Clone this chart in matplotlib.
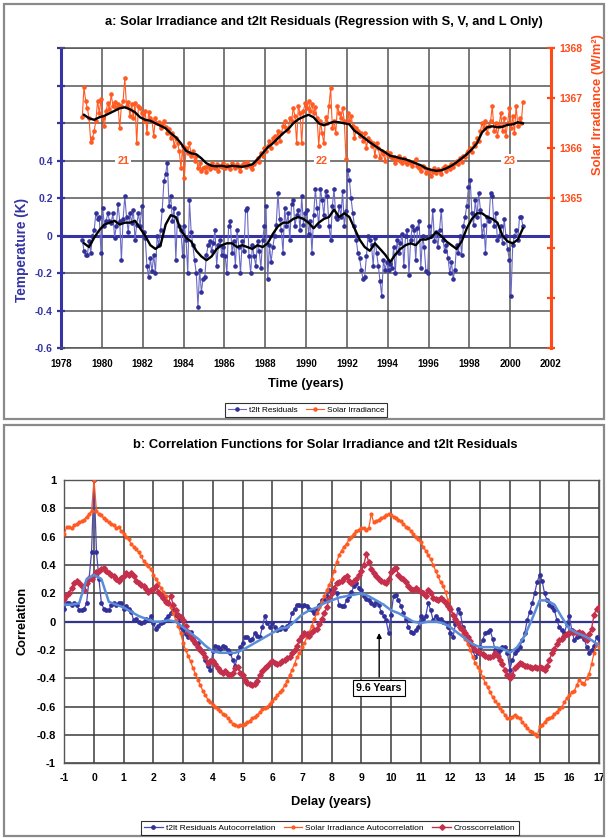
import numpy as np
import matplotlib
matplotlib.use("Agg")
import matplotlib.pyplot as plt
from matplotlib.patches import Rectangle
from matplotlib.lines import Line2D

plt.rcParams['font.family'] = ['Liberation Sans', 'DejaVu Sans']
plt.rcParams['font.weight'] = 'bold'
plt.rcParams['axes.unicode_minus'] = False

# ---------------- Panel a: monthly series, Jan 1979 - Aug 2000 ----------------
t2lt_residuals = [
    -0.02, -0.08, -0.10, -0.10, -0.03, -0.09, 0.00, 0.03, 0.12, 0.09, 0.10, -0.09,   # 1979
    0.15, 0.05, 0.08, 0.12, 0.08, 0.07, 0.12, -0.01, 0.05, 0.17, 0.08, -0.13,        # 1980
    0.09, 0.21, 0.10, 0.02, 0.12, 0.07, 0.14, -0.02, 0.06, 0.12, 0.05, 0.16,         # 1981
    0.02, -0.01, -0.16, -0.22, -0.12, -0.19, -0.10, -0.20, 0.00, -0.05, 0.03, 0.14,  # 1982
    0.29, 0.33, 0.39, 0.16, 0.21, 0.08, 0.15, -0.13, 0.12, 0.05, 0.03, -0.11,        # 1983
    0.05, -0.02, -0.20, 0.19, 0.02, -0.05, -0.13, -0.20, -0.38, -0.18, -0.30, -0.23, # 1984
    -0.22, -0.10, -0.05, -0.03, -0.08, -0.04, 0.03, -0.16, -0.05, -0.02, -0.10, -0.06,  # 1985
    -0.11, -0.20, 0.05, 0.08, -0.09, -0.03, -0.16, 0.03, -0.06, -0.20, -0.03, -0.08,    # 1986
    0.14, 0.15, -0.11, -0.20, -0.05, -0.11, -0.16, -0.03, -0.08, -0.17, -0.02, 0.05,    # 1987
    0.16, -0.23, -0.05, -0.14, -0.06, 0.00, 0.06, 0.23, 0.09, 0.03, -0.09, 0.15,        # 1988
    0.05, 0.12, -0.02, 0.17, 0.19, 0.05, 0.11, 0.14, 0.03, 0.21, 0.06, 0.12,            # 1989
    0.14, 0.01, 0.08, -0.09, 0.11, 0.25, 0.15, 0.05, 0.25, 0.19, 0.11, 0.24,            # 1990
    0.21, 0.05, -0.02, 0.16, 0.25, 0.10, 0.09, 0.16, 0.10, 0.24, 0.05, 0.13,            # 1991
    0.35, 0.30, 0.20, 0.12, 0.05, -0.02, -0.09, -0.12, -0.18, -0.23, -0.22, -0.11,      # 1992
    0.00, -0.02, -0.05, -0.16, -0.01, -0.09, -0.16, -0.24, -0.32, -0.13, -0.18, -0.14,  # 1993
    -0.18, -0.15, -0.17, -0.06, -0.20, -0.02, -0.09, -0.04, 0.01, -0.16, 0.00, 0.03,    # 1994
    -0.21, -0.02, 0.05, 0.03, -0.13, 0.04, 0.08, -0.17, 0.00, -0.06, -0.19, -0.20,      # 1995
    0.05, 0.00, 0.14, -0.03, 0.02, -0.06, 0.03, 0.14, -0.02, -0.08, -0.05, -0.12,       # 1996
    -0.20, -0.14, -0.23, -0.18, -0.05, -0.09, 0.00, -0.10, 0.05, 0.10, 0.16, 0.26,      # 1997
    0.30, 0.12, 0.06, 0.19, 0.10, 0.23, 0.14, 0.00, 0.06, -0.09, 0.10, 0.08,            # 1998
    0.23, 0.21, 0.05, 0.12, -0.02, 0.00, 0.05, -0.04, 0.09, 0.00, -0.07, -0.13,         # 1999
    -0.32, -0.05, 0.00, 0.03, -0.02, 0.10, 0.10, 0.05,                                  # 2000
]

solar_irradiance = [
    1366.62, 1367.22, 1366.95, 1366.80, 1366.60, 1366.12, 1366.20, 1366.35, 1366.55, 1366.95, 1366.70, 1366.98,  # 1979
    1366.60, 1366.45, 1366.75, 1366.90, 1366.78, 1367.08, 1366.85, 1366.92, 1366.80, 1366.88, 1366.40, 1366.85,  # 1980
    1366.95, 1367.40, 1366.85, 1366.92, 1366.65, 1366.88, 1366.60, 1366.90, 1366.10, 1366.85, 1366.80, 1366.70,  # 1981
    1366.55, 1366.75, 1366.30, 1366.72, 1366.60, 1366.55, 1366.25, 1366.60, 1366.50, 1366.52, 1366.40, 1366.48,  # 1982
    1366.55, 1366.42, 1366.30, 1366.38, 1366.20, 1366.30, 1366.05, 1366.20, 1366.10, 1365.95, 1365.60, 1366.05,  # 1983
    1365.40, 1366.00, 1365.90, 1366.10, 1365.85, 1365.95, 1365.75, 1365.85, 1365.60, 1365.70, 1365.55, 1365.60,  # 1984
    1365.62, 1365.52, 1365.65, 1365.58, 1365.70, 1365.62, 1365.60, 1365.68, 1365.55, 1365.65, 1365.62, 1365.70,  # 1985
    1365.60, 1365.66, 1365.62, 1365.58, 1365.70, 1365.64, 1365.60, 1365.68, 1365.62, 1365.55, 1365.66, 1365.70,  # 1986
    1365.62, 1365.72, 1365.66, 1365.62, 1365.58, 1365.68, 1365.75, 1365.80, 1365.72, 1365.90, 1365.85, 1366.00,  # 1987
    1365.95, 1366.05, 1366.15, 1366.00, 1366.20, 1366.25, 1366.10, 1366.35, 1366.15, 1366.30, 1366.45, 1366.55,  # 1988
    1366.40, 1366.35, 1366.60, 1366.55, 1366.80, 1366.65, 1366.10, 1366.85, 1366.70, 1366.10, 1366.75, 1366.90,  # 1989
    1366.80, 1366.95, 1366.75, 1366.88, 1366.70, 1366.82, 1366.60, 1366.05, 1366.55, 1366.30, 1366.10, 1366.62,  # 1990
    1366.50, 1366.85, 1367.20, 1366.40, 1366.55, 1366.30, 1366.85, 1366.70, 1366.60, 1366.80, 1366.55, 1365.78,  # 1991
    1366.70, 1366.55, 1366.65, 1366.45, 1366.20, 1366.40, 1366.35, 1366.25, 1366.30, 1366.15, 1366.30, 1366.00,  # 1992
    1366.20, 1366.15, 1366.05, 1366.10, 1365.85, 1366.10, 1366.00, 1365.80, 1365.95, 1365.88, 1365.75, 1365.92,  # 1993
    1365.85, 1365.90, 1365.80, 1365.82, 1365.70, 1365.78, 1365.85, 1365.75, 1365.70, 1365.80, 1365.72, 1365.68,  # 1994
    1365.75, 1365.70, 1365.65, 1365.72, 1365.78, 1365.65, 1365.60, 1365.55, 1365.65, 1365.62, 1365.50, 1365.58,  # 1995
    1365.55, 1365.45, 1365.52, 1365.60, 1365.50, 1365.58, 1365.55, 1365.48, 1365.60, 1365.65, 1365.55, 1365.62,  # 1996
    1365.58, 1365.68, 1365.62, 1365.70, 1365.75, 1365.68, 1365.80, 1365.72, 1365.85, 1365.82, 1365.90, 1365.95,  # 1997
    1366.00, 1365.92, 1366.10, 1366.05, 1366.20, 1366.15, 1366.35, 1366.50, 1366.40, 1366.55, 1366.30, 1366.45,  # 1998
    1366.55, 1366.85, 1366.35, 1366.50, 1366.25, 1366.45, 1366.70, 1366.35, 1366.60, 1366.25, 1366.50, 1366.80,  # 1999
    1366.40, 1366.65, 1366.30, 1366.85, 1366.45, 1366.60, 1366.50, 1366.92,                                      # 2000
]

# Running-mean trend lines, sampled quarterly from 1979.125
t2lt_trend = [
    -0.04, -0.06, -0.01, 0.03, 0.06, 0.07, 0.08, 0.06, 0.07, 0.07, 0.08, 0.04,
    0.00, -0.05, -0.07, -0.05, 0.06, 0.11, 0.10, 0.03, -0.01, -0.03, -0.08, -0.11,
    -0.13, -0.11, -0.07, -0.05, -0.04, -0.04, -0.06, -0.05, -0.06, -0.07, -0.05, -0.06,
    -0.04, 0.01, 0.05, 0.07, 0.07, 0.09, 0.10, 0.09, 0.07, 0.04, 0.07, 0.09,
    0.10, 0.14, 0.10, 0.12, 0.10, 0.04, -0.02, -0.06, -0.08, -0.04, -0.07, -0.10,
    -0.14, -0.10, -0.07, -0.05, -0.04, -0.05, -0.02, -0.02, -0.01, 0.02, 0.00, -0.03,
    -0.05, -0.07, -0.03, 0.04, 0.09, 0.12, 0.12, 0.10, 0.09, 0.07, 0.00, -0.03,
    -0.04, -0.02, 0.04,
]
solar_trend = [
    1366.67, 1366.60, 1366.57, 1366.62, 1366.65, 1366.70, 1366.75, 1366.80, 1366.82, 1366.78, 1366.72, 1366.62,
    1366.57, 1366.55, 1366.50, 1366.45, 1366.40, 1366.30, 1366.22, 1366.10, 1365.95, 1365.90, 1365.88, 1365.80,
    1365.70, 1365.65, 1365.64, 1365.65, 1365.63, 1365.65, 1365.64, 1365.63, 1365.65, 1365.68, 1365.78, 1365.90,
    1366.02, 1366.10, 1366.20, 1366.30, 1366.38, 1366.50, 1366.58, 1366.63, 1366.67, 1366.62, 1366.50, 1366.46,
    1366.50, 1366.53, 1366.52, 1366.50, 1366.48, 1366.35, 1366.28, 1366.20, 1366.12, 1366.05, 1365.98, 1365.92,
    1365.85, 1365.83, 1365.80, 1365.78, 1365.74, 1365.70, 1365.66, 1365.60, 1365.57, 1365.55, 1365.56, 1365.60,
    1365.65, 1365.72, 1365.80, 1365.88, 1365.98, 1366.10, 1366.32, 1366.42, 1366.44, 1366.42, 1366.43, 1366.47,
    1366.48, 1366.52, 1366.50,
]
cycle_labels = ["21", "22", "23"]
cycle_years = [1981.05, 1990.77, 1999.95]

# ---------------- Panel b: correlation vs delay, monthly lags -1 .. 17 years ----------------
t2lt_autocorr = [
    0.09, 0.13, 0.13, 0.12, 0.13, 0.12, 0.08, 0.08, 0.09, 0.13, 0.30, 0.49,          # -1
    1.00, 0.49, 0.30, 0.13, 0.09, 0.08, 0.08, 0.12, 0.13, 0.12, 0.13, 0.13,          # 0
    0.09, 0.11, 0.09, 0.07, 0.01, 0.02, 0.00, -0.01, 0.00, 0.02, 0.01, 0.04,         # 1
    -0.01, -0.05, -0.03, -0.01, 0.00, 0.02, 0.04, 0.06, 0.08, 0.05, 0.01, -0.04,     # 2
    -0.06, -0.09, -0.11, -0.07, -0.12, -0.15, -0.15, -0.19, -0.22, -0.27, -0.31, -0.34,  # 3
    -0.21, -0.17, -0.18, -0.19, -0.17, -0.18, -0.20, -0.22, -0.27, -0.31, -0.25, -0.18,  # 4
    -0.15, -0.11, -0.11, -0.13, -0.12, -0.08, -0.10, -0.11, -0.04, 0.04, -0.01, -0.04,   # 5
    -0.01, -0.04, -0.06, -0.05, -0.04, -0.05, -0.03, -0.01, 0.06, 0.09, 0.12, 0.12,      # 6
    0.11, 0.12, 0.11, 0.09, 0.08, 0.06, 0.09, 0.12, 0.15, 0.15, 0.18, 0.22,          # 7
    0.22, 0.24, 0.20, 0.12, 0.11, 0.11, 0.15, 0.18, 0.21, 0.25, 0.27, 0.24,          # 8
    0.22, 0.18, 0.16, 0.15, 0.13, 0.12, 0.14, 0.12, 0.07, 0.04, 0.01, -0.08,         # 9
    0.05, 0.18, 0.19, 0.15, 0.11, 0.06, 0.02, -0.04, -0.07, -0.08, -0.06, -0.04,     # 10
    0.04, 0.02, 0.04, 0.13, 0.08, 0.01, 0.04, 0.02, 0.02, 0.00, -0.01, -0.04,        # 11
    -0.08, -0.11, -0.02, 0.09, 0.06, -0.04, -0.08, -0.11, -0.16, -0.20, -0.25, -0.22,    # 12
    -0.18, -0.13, -0.08, -0.07, -0.06, -0.12, -0.20, -0.22, -0.20, -0.18, -0.18, -0.22,  # 13
    -0.34, -0.27, -0.22, -0.20, -0.18, -0.13, -0.08, 0.01, 0.07, 0.13, 0.20, 0.28,       # 14
    0.33, 0.29, 0.20, 0.15, 0.12, 0.10, 0.08, 0.01, -0.04, -0.06, -0.08, -0.02,          # 15
    0.04, -0.06, -0.13, -0.11, -0.10, -0.10, -0.12, -0.18, -0.22, -0.20, -0.17, -0.11,   # 16
    -0.12,                                                                               # 17
]
solar_autocorr = [
    0.62, 0.67, 0.67, 0.66, 0.68, 0.69, 0.70, 0.71, 0.72, 0.74, 0.76, 0.78,          # -1
    1.00, 0.78, 0.76, 0.75, 0.73, 0.72, 0.70, 0.69, 0.68, 0.66, 0.67, 0.64,          # 0
    0.62, 0.60, 0.58, 0.55, 0.53, 0.51, 0.49, 0.46, 0.43, 0.41, 0.39, 0.37,          # 1
    0.33, 0.30, 0.27, 0.24, 0.21, 0.18, 0.14, 0.10, 0.06, 0.01, -0.03, -0.08,        # 2
    -0.15, -0.20, -0.24, -0.28, -0.33, -0.37, -0.41, -0.45, -0.49, -0.52, -0.55, -0.57,  # 3
    -0.59, -0.60, -0.62, -0.63, -0.65, -0.66, -0.68, -0.70, -0.72, -0.73, -0.74, -0.73,  # 4
    -0.73, -0.72, -0.71, -0.70, -0.68, -0.67, -0.66, -0.64, -0.62, -0.61, -0.60, -0.58,  # 5
    -0.56, -0.54, -0.52, -0.50, -0.48, -0.45, -0.42, -0.38, -0.34, -0.30, -0.25, -0.22,  # 6
    -0.18, -0.15, -0.11, -0.07, -0.03, 0.02, 0.06, 0.10, 0.14, 0.18, 0.22, 0.26,     # 7
    0.30, 0.36, 0.42, 0.47, 0.50, 0.53, 0.55, 0.58, 0.60, 0.62, 0.64, 0.65,          # 8
    0.66, 0.66, 0.65, 0.66, 0.76, 0.70, 0.71, 0.72, 0.73, 0.74, 0.75, 0.76,          # 9
    0.75, 0.74, 0.73, 0.72, 0.71, 0.69, 0.67, 0.66, 0.64, 0.62, 0.60, 0.58,          # 10
    0.56, 0.53, 0.50, 0.47, 0.44, 0.40, 0.36, 0.32, 0.28, 0.25, 0.21, 0.15,          # 11
    0.10, 0.05, 0.02, -0.02, -0.05, -0.08, -0.12, -0.16, -0.20, -0.25, -0.29, -0.32,     # 12
    -0.35, -0.39, -0.43, -0.46, -0.50, -0.53, -0.56, -0.58, -0.61, -0.63, -0.66, -0.68,  # 13
    -0.68, -0.67, -0.66, -0.67, -0.68, -0.71, -0.73, -0.75, -0.77, -0.78, -0.79, -0.81,  # 14
    -0.74, -0.73, -0.71, -0.69, -0.68, -0.67, -0.65, -0.64, -0.62, -0.60, -0.57, -0.54,  # 15
    -0.52, -0.50, -0.49, -0.45, -0.41, -0.43, -0.44, -0.40, -0.37, -0.30, -0.22, -0.16,  # 16
    -0.18,                                                                               # 17
]
crosscorr = [
    0.16, 0.19, 0.20, 0.24, 0.27, 0.29, 0.27, 0.25, 0.22, 0.27, 0.31, 0.30,          # -1
    0.33, 0.35, 0.36, 0.37, 0.38, 0.36, 0.34, 0.33, 0.32, 0.30, 0.29, 0.31,          # 0
    0.32, 0.34, 0.33, 0.34, 0.32, 0.29, 0.27, 0.26, 0.25, 0.23, 0.21, 0.22,          # 1
    0.23, 0.25, 0.21, 0.19, 0.17, 0.14, 0.13, 0.18, 0.12, 0.08, 0.05, 0.03,          # 2
    0.01, -0.03, -0.07, -0.11, -0.13, -0.15, -0.18, -0.20, -0.22, -0.25, -0.29, -0.28,   # 3
    -0.28, -0.30, -0.33, -0.35, -0.36, -0.35, -0.37, -0.38, -0.36, -0.33, -0.32, -0.36,  # 4
    -0.38, -0.41, -0.43, -0.44, -0.45, -0.44, -0.42, -0.38, -0.35, -0.33, -0.31, -0.29,  # 5
    -0.28, -0.29, -0.30, -0.29, -0.28, -0.27, -0.26, -0.25, -0.22, -0.20, -0.17, -0.13,  # 6
    -0.10, -0.08, -0.09, -0.10, -0.07, -0.06, -0.05, -0.02, 0.02, 0.06, 0.10, 0.16,      # 7
    0.20, 0.24, 0.27, 0.28, 0.29, 0.31, 0.32, 0.29, 0.27, 0.29, 0.30, 0.33,          # 8
    0.36, 0.40, 0.48, 0.42, 0.37, 0.34, 0.32, 0.30, 0.29, 0.28, 0.27, 0.30,          # 9
    0.35, 0.37, 0.38, 0.33, 0.31, 0.30, 0.28, 0.25, 0.23, 0.22, 0.24, 0.22,          # 10
    0.21, 0.20, 0.18, 0.22, 0.20, 0.17, 0.16, 0.15, 0.17, 0.15, 0.13, 0.11,          # 11
    0.09, 0.05, 0.02, -0.01, -0.04, -0.06, -0.08, -0.11, -0.14, -0.17, -0.20, -0.21,     # 12
    -0.22, -0.23, -0.24, -0.25, -0.25, -0.24, -0.22, -0.24, -0.27, -0.30, -0.34, -0.38,  # 13
    -0.40, -0.38, -0.33, -0.31, -0.29, -0.30, -0.31, -0.31, -0.32, -0.33, -0.32, -0.33,  # 14
    -0.32, -0.33, -0.34, -0.31, -0.27, -0.22, -0.19, -0.16, -0.13, -0.12, -0.10, -0.09,  # 15
    -0.08, -0.07, -0.07, -0.08, -0.07, -0.08, -0.10, -0.13, -0.09, -0.05, 0.05, 0.09,    # 16
    0.10,                                                                                # 17
]
# Running-mean of the t2lt autocorrelation, sampled every quarter year from -1
t2lt_autocorr_trend = [
    0.12, 0.12, 0.13, 0.30,
    0.33, 0.30, 0.14, 0.12,
    0.10, 0.07, 0.04, 0.02,
    0.00, 0.00, 0.01, 0.00,
    -0.04, -0.08, -0.12, -0.17,
    -0.21, -0.22, -0.22, -0.22,
    -0.20, -0.17, -0.14, -0.11,
    -0.08, -0.05, -0.04, 0.00,
    0.05, 0.08, 0.10, 0.13,
    0.15, 0.17, 0.18, 0.19,
    0.20, 0.18, 0.15, 0.12,
    0.08, 0.06, 0.03, 0.00,
    -0.01, 0.00, 0.00, -0.01,
    -0.04, -0.08, -0.12, -0.16,
    -0.18, -0.18, -0.18, -0.19,
    -0.22, -0.18, -0.10, 0.02,
    0.15, 0.15, 0.12, 0.03,
    -0.05, -0.08, -0.10, -0.13,
    -0.17,
]
marker_label = "9.6 Years"
marker_delay = 9.6

# ---------------- styling ----------------
BLUE_AX = "#3434a4"
BLUE_LINE = "#6a6ac4"
BLUE_PT = "#303098"
ORANGE = "#ff5a22"
ORANGE_AX = "#ff4a18"
RED = "#c4304c"
LIGHT_BLUE = "#5a8cd8"
GRID = "#555555"
FRAME = "#8a8a8a"

W, H = 608, 838
fig = plt.figure(figsize=(W / 100, H / 100), dpi=100)
fig.patch.set_facecolor("white")


def fx(px):
    return px / W


def fy(py):
    return 1 - py / H


def fmt(v):
    v = 0.0 if abs(v) < 1e-9 else v
    return "{:g}".format(v)


# panel frames
fig.add_artist(Rectangle((fx(4), fy(419)), fx(600), 415 / H, transform=fig.transFigure,
                         fill=False, ec=FRAME, lw=1.6))
fig.add_artist(Rectangle((fx(4), fy(836)), fx(600), 411 / H, transform=fig.transFigure,
                         fill=False, ec=FRAME, lw=1.6))

# ---------------- panel a ----------------
ax = fig.add_axes([fx(61), fy(348.3), fx(551 - 61), 300 / H])
ax2 = ax.twinx()

months = 1979 + (np.arange(len(t2lt_residuals)) + 0.5) / 12
trend_t = 1979.125 + 0.25 * np.arange(len(t2lt_trend))

ax.set_xlim(1978, 2002)
ax.set_ylim(-0.6, 1.0)
ax2.set_ylim(1362, 1368)

ax.set_xticks(np.arange(1978, 2003, 2))
yt = np.round(np.arange(-0.6, 1.01, 0.2), 1)
ax.set_yticks(yt)
ax.set_yticklabels([fmt(v) if v <= 0.4 else "" for v in yt])
ax.grid(True, color=GRID, lw=1.1)
ax.set_axisbelow(True)
ax.axhline(0, color=BLUE_AX, lw=2.2, zorder=2)

ax.plot(months, t2lt_residuals, color=BLUE_LINE, lw=0.8, marker="o", ms=2.3,
        mfc=BLUE_PT, mec=BLUE_PT, zorder=3)
ax.plot(trend_t, t2lt_trend, color="black", lw=1.7, zorder=4)

for lab, yr in zip(cycle_labels, cycle_years):
    ax.text(yr, 0.4, lab, color=ORANGE, fontsize=7.8, ha="center", va="center", zorder=3,
            bbox=dict(facecolor="white", edgecolor="none", pad=1.5))

ax2.plot(months, solar_irradiance, color=ORANGE, lw=0.8, marker="o", ms=2.3,
         mfc=ORANGE, mec=ORANGE, zorder=3)
ax2.plot(trend_t, solar_trend, color="black", lw=1.7, zorder=4)
ax2.set_yticks(np.arange(1362, 1369, 1))
ax2.set_yticklabels(["" if v < 1365 else str(v) for v in range(1362, 1369)])

for s in ["top", "bottom"]:
    ax.spines[s].set_color(GRID)
    ax.spines[s].set_linewidth(1.1)
ax.spines["left"].set_color(BLUE_AX)
ax.spines["left"].set_linewidth(2.2)
ax.spines["right"].set_visible(False)
for s in ["top", "bottom", "left"]:
    ax2.spines[s].set_visible(False)
ax2.spines["right"].set_color(ORANGE_AX)
ax2.spines["right"].set_linewidth(2.2)

ax.tick_params(axis="x", length=0, labelsize=7, pad=8, labelcolor="black")
ax.tick_params(axis="y", direction="inout", length=6, width=1.6, color=BLUE_AX,
               labelsize=7.5, labelcolor=BLUE_AX, pad=3)
ax2.tick_params(axis="y", direction="inout", length=6, width=1.6, color=ORANGE_AX,
                labelsize=7.5, labelcolor=ORANGE_AX, pad=3)

fig.text(fx(324), fy(22), "a: Solar Irradiance and t2lt Residuals (Regression with S, V, and L Only)",
         ha="center", va="center", fontsize=9.3)
fig.text(fx(306), fy(384), "Time (years)", ha="center", va="center", fontsize=9.3)
fig.text(fx(22), fy(250), "Temperature (K)", ha="center", va="center", rotation=90,
         fontsize=9.8, color=BLUE_AX)
fig.text(fx(598), fy(105), "Solar Irradiance (W/m²)", ha="center", va="center", rotation=90,
         fontsize=9.3, color=ORANGE_AX)

handles_a = [
    Line2D([], [], color=BLUE_LINE, lw=0.8, marker="o", ms=2.3, mfc=BLUE_PT, mec=BLUE_PT),
    Line2D([], [], color=ORANGE, lw=0.8, marker="o", ms=2.2, mfc=ORANGE, mec=ORANGE),
]
leg_a = fig.legend(handles_a, ["t2lt Residuals", "Solar Irradiance"], loc="center",
                   bbox_to_anchor=(fx(306), fy(410)), ncol=2, frameon=True,
                   fancybox=False, edgecolor="black", handlelength=2.2, handletextpad=0.4,
                   columnspacing=1.0, borderpad=0.35, prop={"weight": "normal", "size": 5.9})
leg_a.get_frame().set_linewidth(0.8)

# ---------------- panel b ----------------
bx = fig.add_axes([fx(64.3), fy(763.3), fx(599 - 64.3), 283.3 / H])
lags = -1 + np.arange(len(t2lt_autocorr)) / 12
trend_lags = -1 + 0.25 * np.arange(len(t2lt_autocorr_trend))

bx.set_xlim(-1, 17)
bx.set_ylim(-1, 1)
bx.set_xticks(np.arange(-1, 18, 1))
byt = np.round(np.arange(-1, 1.01, 0.2), 1)
bx.set_yticks(byt)
bx.set_yticklabels([fmt(v) for v in byt])
bx.grid(True, color="#3a3a3a", lw=1.1)
bx.set_axisbelow(True)
bx.axhline(0, color="#34348c", lw=1.6, zorder=2)
for s in bx.spines.values():
    s.set_color(GRID)
    s.set_linewidth(1.0)
bx.tick_params(axis="x", length=0, labelsize=7.5, pad=7)
bx.tick_params(axis="y", length=0, labelsize=8, pad=6)

bx.plot(lags, t2lt_autocorr, color="#4848b4", lw=0.9, marker="o", ms=2.4,
        mfc=BLUE_PT, mec=BLUE_PT, zorder=3)
bx.plot(lags, solar_autocorr, color=ORANGE, lw=0.9, marker="o", ms=2.0,
        mfc=ORANGE, mec=ORANGE, zorder=4)
bx.plot(lags, crosscorr, color=RED, lw=1.0, marker="D", ms=2.8,
        mfc=RED, mec=RED, zorder=5)
bx.plot(trend_lags, t2lt_autocorr_trend, color=LIGHT_BLUE, lw=1.8, zorder=6)

bx.annotate("", xy=(marker_delay, -0.06), xytext=(marker_delay, -0.41),
            arrowprops=dict(arrowstyle="-|>", color="black", lw=1.0, mutation_scale=7),
            zorder=7)
bx.text(marker_delay, -0.47, marker_label, ha="center", va="center", fontsize=7.6, zorder=8,
        bbox=dict(facecolor="white", edgecolor="black", lw=0.8, boxstyle="square,pad=0.3"))

fig.text(fx(325), fy(445), "b: Correlation Functions for Solar Irradiance and t2lt Residuals",
         ha="center", va="center", fontsize=9.3)
fig.text(fx(331), fy(802), "Delay (years)", ha="center", va="center", fontsize=9.3)
fig.text(fx(22), fy(621), "Correlation", ha="center", va="center", rotation=90, fontsize=9.2)

handles_b = [
    Line2D([], [], color="#4848b4", lw=0.9, marker="o", ms=2.4, mfc=BLUE_PT, mec=BLUE_PT),
    Line2D([], [], color=ORANGE, lw=0.9, marker="o", ms=2.0, mfc=ORANGE, mec=ORANGE),
    Line2D([], [], color=RED, lw=1.0, marker="D", ms=2.8, mfc=RED, mec=RED),
]
leg_b = fig.legend(handles_b, ["t2lt Residuals Autocorrelation", "Solar Irradiance Autocorrelation",
                               "Crosscorrelation"], loc="center",
                   bbox_to_anchor=(fx(330), fy(828)), ncol=3, frameon=True,
                   fancybox=False, edgecolor="black", handlelength=2.2, handletextpad=0.4,
                   columnspacing=1.0, borderpad=0.35, prop={"weight": "normal", "size": 6.0})
leg_b.get_frame().set_linewidth(0.8)

fig.savefig("out.png", dpi=100, facecolor="white")
